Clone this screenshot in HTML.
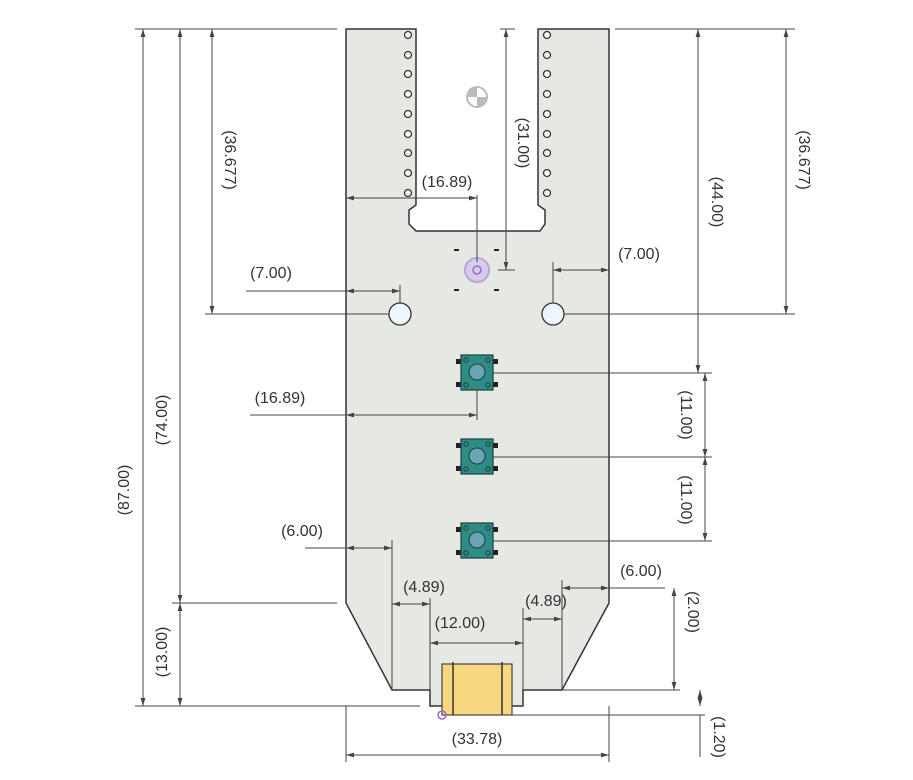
<!DOCTYPE html>
<html><head><meta charset="utf-8"><style>
html,body{margin:0;padding:0;background:#fff;}
svg{display:block;}
text{font-family:"Liberation Sans",sans-serif;font-size:16px;fill:#333;}
</style></head><body>
<svg width="913" height="780" viewBox="0 0 913 780" xmlns="http://www.w3.org/2000/svg">
<defs>
<marker id="a" viewBox="0 0 10 10" refX="10" refY="5" markerWidth="10" markerHeight="8" orient="auto-start-reverse" markerUnits="userSpaceOnUse"><path d="M0,2 L10,5 L0,8 z" fill="#444"/></marker>
</defs>
<!-- board -->
<path d="M346,29 L416,29 L416,205 L409,210 L409,224 L416,231 L540,231 L545,224 L545,210 L538,205 L538,29 L609,29 L609,603 L562,690 L523,690 L523,706 L430,706 L430,690 L392,690 L346,603 Z" fill="#e5e8e3" stroke="#333" stroke-width="1.5"/>
<!-- pin holes -->
<g fill="#fff" stroke="#333" stroke-width="1.3">
<circle cx="408" cy="35" r="3.5"/><circle cx="408" cy="55" r="3.5"/><circle cx="408" cy="74" r="3.5"/><circle cx="408" cy="94" r="3.5"/><circle cx="408" cy="114" r="3.5"/><circle cx="408" cy="134" r="3.5"/><circle cx="408" cy="153" r="3.5"/><circle cx="408" cy="173" r="3.5"/><circle cx="408" cy="193" r="3.5"/>
<circle cx="547" cy="35" r="3.5"/><circle cx="547" cy="55" r="3.5"/><circle cx="547" cy="74" r="3.5"/><circle cx="547" cy="94" r="3.5"/><circle cx="547" cy="114" r="3.5"/><circle cx="547" cy="134" r="3.5"/><circle cx="547" cy="153" r="3.5"/><circle cx="547" cy="173" r="3.5"/><circle cx="547" cy="193" r="3.5"/>
</g>
<!-- center mark -->
<circle cx="477" cy="97" r="11" fill="#bbb"/>
<path d="M477,97 L477,88 A9,9 0 0 1 486,97 Z M477,97 L477,106 A9,9 0 0 1 468,97 Z" fill="#fff"/>
<!-- purple target -->
<circle cx="477" cy="270" r="12" fill="#d8cde8" stroke="#b9a6e0" stroke-width="2"/>
<circle cx="477" cy="270" r="4" fill="none" stroke="#9a6ad8" stroke-width="1.5"/>
<g stroke="#222" stroke-width="2"><line x1="454" y1="250" x2="459" y2="250"/><line x1="494" y1="250" x2="499" y2="250"/><line x1="454" y1="290" x2="459" y2="290"/><line x1="494" y1="290" x2="499" y2="290"/></g>
<!-- mounting holes -->
<circle cx="400" cy="314" r="11" fill="#eef6fb" stroke="#333" stroke-width="1.3"/>
<circle cx="553" cy="314" r="11" fill="#eef6fb" stroke="#333" stroke-width="1.3"/>
<!-- buttons -->
<g id="btn">
<rect x="456" y="359" width="8" height="5" fill="#222"/><rect x="490" y="359" width="8" height="5" fill="#222"/>
<rect x="456" y="382" width="8" height="5" fill="#222"/><rect x="490" y="382" width="8" height="5" fill="#222"/>
<rect x="461" y="355" width="32" height="35" fill="#2e8b85" stroke="#1d3f3c" stroke-width="1.2"/>
<circle cx="466" cy="360" r="2.2" fill="none" stroke="#1d3f3c"/><circle cx="488" cy="360" r="2.2" fill="none" stroke="#1d3f3c"/>
<circle cx="466" cy="385" r="2.2" fill="none" stroke="#1d3f3c"/><circle cx="488" cy="385" r="2.2" fill="none" stroke="#1d3f3c"/>
<circle cx="477" cy="372" r="8" fill="#6aa5b5" stroke="#1d3f3c"/>
</g>
<use href="#btn" y="84"/>
<use href="#btn" y="168"/>
<!-- connector -->
<rect x="442" y="664" width="70" height="51" fill="#f7d77f" stroke="#444" stroke-width="1.2"/>
<line x1="453" y1="662" x2="453" y2="715" stroke="#333" stroke-width="1.5"/>
<line x1="502" y1="662" x2="502" y2="715" stroke="#333" stroke-width="1.5"/>
<circle cx="442" cy="715" r="4" fill="none" stroke="#9a6ad8" stroke-width="1.5"/>
<!-- extension lines -->
<g stroke="#444" stroke-width="1" fill="none">
<line x1="135" y1="29" x2="337" y2="29"/>
<line x1="500" y1="29" x2="515" y2="29"/>
<line x1="615" y1="29" x2="795" y2="29"/>
<line x1="135" y1="706" x2="420" y2="706"/>
<line x1="172" y1="603" x2="337" y2="603"/>
<line x1="205" y1="314" x2="389" y2="314"/>
<line x1="564" y1="314" x2="795" y2="314"/>
<line x1="498" y1="270" x2="515" y2="270"/>
<line x1="477" y1="195" x2="477" y2="262"/>
<line x1="400" y1="285" x2="400" y2="303"/>
<line x1="553" y1="262" x2="553" y2="303"/>
<line x1="477" y1="390" x2="477" y2="420"/>
<line x1="493" y1="373" x2="712" y2="373"/>
<line x1="493" y1="457" x2="712" y2="457"/>
<line x1="493" y1="541" x2="712" y2="541"/>
<line x1="392" y1="540" x2="392" y2="690"/>
<line x1="430" y1="598" x2="430" y2="690"/>
<line x1="523" y1="608" x2="523" y2="690"/>
<line x1="562" y1="580" x2="562" y2="690"/>
<line x1="609" y1="588" x2="665" y2="588"/>
<line x1="562" y1="690" x2="680" y2="690"/>
<line x1="512" y1="715" x2="705" y2="715"/>
<line x1="346" y1="706" x2="346" y2="762"/>
<line x1="609" y1="706" x2="609" y2="762"/>
<line x1="246" y1="291" x2="346" y2="291"/>
<line x1="250" y1="415" x2="346" y2="415"/>
<line x1="305" y1="548" x2="346" y2="548"/>
<line x1="700" y1="715" x2="700" y2="757"/>
</g>
<!-- dimension lines -->
<g stroke="#444" stroke-width="1" marker-start="url(#a)" marker-end="url(#a)">
<line x1="143" y1="29" x2="143" y2="706"/>
<line x1="180" y1="29" x2="180" y2="603"/>
<line x1="180" y1="603" x2="180" y2="706"/>
<line x1="212" y1="29" x2="212" y2="314"/>
<line x1="506" y1="29" x2="506" y2="270"/>
<line x1="698" y1="29" x2="698" y2="373"/>
<line x1="786" y1="29" x2="786" y2="314"/>
<line x1="705" y1="373" x2="705" y2="457"/>
<line x1="705" y1="457" x2="705" y2="541"/>
<line x1="674" y1="588" x2="674" y2="690"/>
<line x1="700" y1="690" x2="700" y2="706"/>
<line x1="346" y1="755" x2="609" y2="755"/>
<line x1="346" y1="198" x2="477" y2="198"/>
<line x1="346" y1="291" x2="400" y2="291"/>
<line x1="553" y1="270" x2="609" y2="270"/>
<line x1="346" y1="415" x2="477" y2="415"/>
<line x1="346" y1="548" x2="392" y2="548"/>
<line x1="392" y1="604" x2="430" y2="604"/>
<line x1="430" y1="643" x2="523" y2="643"/>
<line x1="523" y1="619" x2="562" y2="619"/>
<line x1="562" y1="588" x2="609" y2="588"/>
</g>
<!-- labels -->
<text x="125" y="490" text-anchor="middle" dominant-baseline="middle" transform="rotate(-90 125 490)">(87.00)</text>
<text x="163" y="420" text-anchor="middle" dominant-baseline="middle" transform="rotate(-90 163 420)">(74.00)</text>
<text x="163" y="652" text-anchor="middle" dominant-baseline="middle" transform="rotate(-90 163 652)">(13.00)</text>
<text x="229" y="160" text-anchor="middle" dominant-baseline="middle" transform="rotate(90 229 160)">(36.677)</text>
<text x="522" y="143" text-anchor="middle" dominant-baseline="middle" transform="rotate(90 522 143)">(31.00)</text>
<text x="716" y="202" text-anchor="middle" dominant-baseline="middle" transform="rotate(90 716 202)">(44.00)</text>
<text x="803" y="160" text-anchor="middle" dominant-baseline="middle" transform="rotate(90 803 160)">(36.677)</text>
<text x="685" y="415" text-anchor="middle" dominant-baseline="middle" transform="rotate(90 685 415)">(11.00)</text>
<text x="685" y="500" text-anchor="middle" dominant-baseline="middle" transform="rotate(90 685 500)">(11.00)</text>
<text x="692" y="612" text-anchor="middle" dominant-baseline="middle" transform="rotate(90 692 612)">(2.00)</text>
<text x="718" y="737" text-anchor="middle" dominant-baseline="middle" transform="rotate(90 718 737)">(1.20)</text>
<text x="447" y="187" text-anchor="middle">(16.89)</text>
<text x="271" y="278" text-anchor="middle">(7.00)</text>
<text x="639" y="259" text-anchor="middle">(7.00)</text>
<text x="280" y="403" text-anchor="middle">(16.89)</text>
<text x="302" y="536" text-anchor="middle">(6.00)</text>
<text x="424" y="592" text-anchor="middle">(4.89)</text>
<text x="546" y="606" text-anchor="middle">(4.89)</text>
<text x="460" y="628" text-anchor="middle">(12.00)</text>
<text x="641" y="576" text-anchor="middle">(6.00)</text>
<text x="477" y="744" text-anchor="middle">(33.78)</text>
</svg>
</body></html>
